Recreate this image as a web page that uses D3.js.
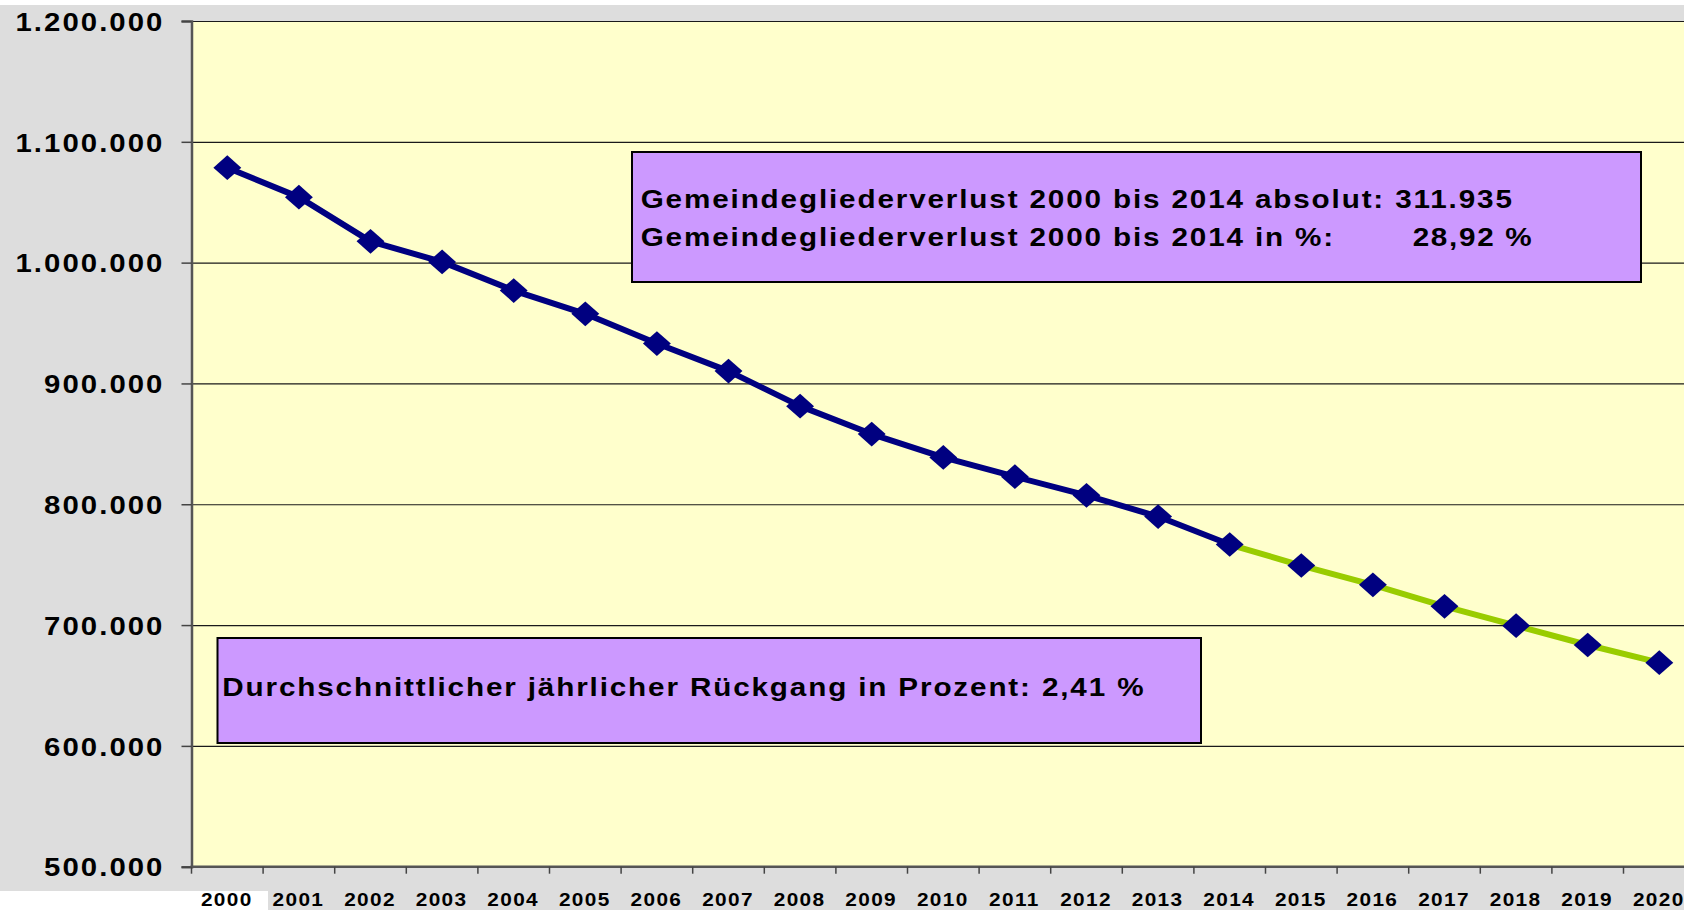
<!DOCTYPE html>
<html>
<head>
<meta charset="utf-8">
<script src="https://cdn.jsdelivr.net/npm/d3@7"></script>
<style>
  html, body { margin: 0; padding: 0; background: #fff; }
  svg { display: block; overflow: hidden; }
  text { font-family: "Liberation Sans", Arial, sans-serif; font-weight: bold; fill: #000; }
</style>
</head>
<body>
<svg id="chart" width="1684" height="910"></svg>
<script>
// Gemeindeglieder 2000 - 2014 (Ist) und Fortschreibung bis 2020
let years = ['2000', '2001', '2002', '2003', '2004', '2005', '2006', '2007', '2008', '2009', '2010',
             '2011', '2012', '2013', '2014', '2015', '2016', '2017', '2018', '2019', '2020'];
let members = [1078613, 1054200, 1017600, 1000600, 976900, 957600, 933000, 910200, 881200, 858100, 838800,
               822800, 807400, 789800, 766678, 749300, 733300, 715500, 699500, 683500, 668900];
let lastActualYear = '2014';
let yTicks = [500000, 600000, 700000, 800000, 900000, 1000000, 1100000, 1200000];

let lossLines = ['Gemeindegliederverlust 2000 bis 2014 absolut: 311.935',
                 'Gemeindegliederverlust 2000 bis 2014 in %:'];
let lossPercent = '28,92 %';
let avgLine = 'Durchschnittlicher jährlicher Rückgang in Prozent: 2,41 %';

let de = d3.formatLocale({ decimal: ',', thousands: '.', grouping: [3], currency: ['', ' €'] });
let fmt = de.format(',d');

// the original picture is stretched sideways and spaced out a bit:
// widen each text around its own anchor point
function widen(sel, sx, ls) {
  sel.attr('letter-spacing', ls).each(function () {
    let ax = +(this.getAttribute('x') || 0);
    d3.select(this).attr('transform', `translate(${ax},0) scale(${sx},1) translate(${-ax},0)`);
  });
}

let svg = d3.select('#chart');
let W = 1684, H = 910;

// plot area (runs a bit past the right edge, like the original)
let plotLeft = 191.5, plotTop = 21, plotBottom = 866.7, step = 71.6;
let plotRight = plotLeft + step * years.length;

let x = d3.scaleBand().domain(years).range([plotLeft, plotRight]).padding(0);
let y = d3.scaleLinear().domain([500000, 1200000]).range([plotBottom, plotTop]);

// backgrounds
svg.append('rect').attr('x', 0).attr('y', 5).attr('width', W).attr('height', H - 5).attr('fill', '#dddddd');
svg.append('rect').attr('x', 0).attr('y', 891).attr('width', 268).attr('height', 19).attr('fill', '#ffffff');
svg.append('rect')
  .attr('x', plotLeft).attr('y', plotTop)
  .attr('width', plotRight - plotLeft).attr('height', plotBottom - plotTop)
  .attr('fill', '#ffffcc');

// gridlines
svg.append('g')
  .attr('transform', `translate(${plotLeft},0)`)
  .call(d3.axisLeft(y).tickValues(yTicks).tickSize(-(plotRight - plotLeft)).tickFormat(''))
  .call(g => g.select('.domain').remove())
  .call(g => g.selectAll('.tick line').attr('stroke', '#1a1a1a').attr('stroke-width', 1.2));

// y axis
let yAxis = svg.append('g')
  .attr('transform', `translate(${plotLeft},0)`)
  .call(d3.axisLeft(y).tickValues(yTicks).tickSize(10).tickPadding(17).tickFormat(fmt));
yAxis.select('.domain').attr('stroke', '#555').attr('stroke-width', 2.5);
yAxis.selectAll('.tick line').attr('stroke', '#444').attr('stroke-width', 1.5);
yAxis.selectAll('.tick text')
  .attr('font-size', 25.5)
  .attr('dy', '0.36em')
  .call(widen, 1.15, 1.8);

// x axis: ticks between categories, labels centred
let xAxis = svg.append('g').attr('transform', `translate(0,${plotBottom})`);
xAxis.append('line')
  .attr('x1', plotLeft - 1).attr('x2', plotRight)
  .attr('stroke', '#555').attr('stroke-width', 2.5);
xAxis.selectAll('line.xt')
  .data(years.concat(['end']))
  .join('line')
  .attr('class', 'xt')
  .attr('x1', (d, i) => plotLeft + i * x.bandwidth())
  .attr('x2', (d, i) => plotLeft + i * x.bandwidth())
  .attr('y1', 0).attr('y2', 7)
  .attr('stroke', '#444').attr('stroke-width', 1.5);
xAxis.selectAll('text')
  .data(years)
  .join('text')
  .attr('x', d => x(d) + x.bandwidth() / 2 - 0.5)
  .attr('y', 39.5)
  .attr('text-anchor', 'middle')
  .attr('font-size', 18.6)
  .text(d => d)
  .call(widen, 1.12, 1.2);

// lines
let points = years.map((yr, i) => ({ year: yr, value: members[i] }));
let cut = years.indexOf(lastActualYear);
let line = d3.line()
  .x(d => x(d.year) + x.bandwidth() / 2)
  .y(d => y(d.value));

svg.append('path')
  .attr('d', line(points.slice(cut)))
  .attr('fill', 'none')
  .attr('stroke', '#99cc00')
  .attr('stroke-width', 6)
  .attr('stroke-linejoin', 'round');

svg.append('path')
  .attr('d', line(points.slice(0, cut + 1)))
  .attr('fill', 'none')
  .attr('stroke', '#000080')
  .attr('stroke-width', 6)
  .attr('stroke-linejoin', 'round');

// diamond markers (a bit wider than tall)
let diamond = d3.symbol().type(d3.symbolSquare).size(305);
svg.selectAll('path.marker')
  .data(points)
  .join('path')
  .attr('class', 'marker')
  .attr('d', diamond)
  .attr('transform', d => `translate(${x(d.year) + x.bandwidth() / 2},${y(d.value)}) scale(1.13,1) rotate(45)`)
  .attr('fill', '#000080');

// annotation boxes
let box1 = svg.append('g');
box1.append('rect')
  .attr('x', 632).attr('y', 152)
  .attr('width', 1009).attr('height', 130)
  .attr('fill', '#cc99ff').attr('stroke', '#000').attr('stroke-width', 2);
box1.selectAll('text.l')
  .data(lossLines)
  .join('text')
  .attr('class', 'l')
  .attr('x', 640.7)
  .attr('y', (d, i) => 208.3 + i * 37.4)
  .attr('font-size', 26.5)
  .text(d => d)
  .call(widen, 1.12, 1.65);
box1.append('text')
  .attr('x', 1412.7).attr('y', 245.7)
  .attr('font-size', 26.5)
  .text(lossPercent)
  .call(widen, 1.12, 1.5);

let box2 = svg.append('g');
box2.append('rect')
  .attr('x', 217.5).attr('y', 638)
  .attr('width', 983.5).attr('height', 105)
  .attr('fill', '#cc99ff').attr('stroke', '#000').attr('stroke-width', 2);
box2.append('text')
  .attr('x', 222.3).attr('y', 696.5)
  .attr('font-size', 26.5)
  .text(avgLine)
  .call(widen, 1.12, 1.65);
</script>
</body>
</html>
